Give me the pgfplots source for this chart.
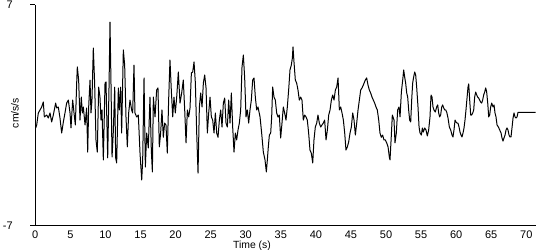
\documentclass[border=0pt]{standalone}
\usepackage{fontspec}
\setmainfont{Liberation Sans}
\usepackage{pgfplots}
\pgfplotsset{compat=1.18}
\begin{document}
\begin{tikzpicture}
\begin{axis}[
  scale only axis,
  width=500.4pt, height=220.7pt,
  xmin=0, xmax=71.34, ymin=-7, ymax=7,
  axis lines=left,
  axis line style={-, line width=1pt, black},
  tick align=outside,
  major tick length=5pt,
  xtick={0,5,...,70},
  xticklabels={0,5,10,15,20,25,30,35,40,45,50,55,60,65,70},
  xtick style={draw=none},
  ytick={-7,7},
  yticklabels={-7,7},
  ytick style={line width=1pt, black},
  tick label style={font=\fontsize{11}{13}\selectfont},
  x tick label style={inner sep=0pt, yshift=0pt},
  y tick label style={xshift=-14pt},
  xlabel={Time (s)},
  ylabel={cm/s/s},
  label style={font=\fontsize{10.4}{12}\selectfont},
  xlabel style={at={(axis description cs:0.433,0)}, anchor=north, inner sep=0pt, yshift=-14.6pt},
  ylabel style={at={(axis description cs:-0.0406,0.51)}, anchor=center, inner sep=0pt},
]
\addplot[black, line width=1pt, line join=round] table {
0.05 -0.80
0.20 -0.61
0.43 0.15
0.67 0.34
0.91 0.53
1.14 0.85
1.29 -0.10
1.62 0.02
1.86 -0.17
2.10 0.15
2.33 -0.42
2.57 0.02
2.90 0.78
3.05 0.47
3.28 0.53
3.52 -0.17
3.76 -1.12
4.00 -0.42
4.23 0.15
4.47 0.78
4.71 0.97
4.95 0.15
5.09 -0.80
5.33 0.97
5.52 0.15
5.71 -0.61
5.90 2.05
5.99 3.07
6.18 2.24
6.37 -0.30
6.56 1.16
6.71 0.15
6.85 0.53
7.09 -0.61
7.32 0.47
7.47 -2.33
7.61 0.53
7.80 2.24
7.94 0.15
8.08 0.97
8.27 4.27
8.46 2.05
8.65 -1.56
8.84 -2.33
9.03 1.79
9.22 1.16
9.37 -0.30
9.51 0.34
9.70 -2.83
9.94 2.05
10.08 2.12
10.32 -2.70
10.51 1.79
10.65 5.92
10.79 2.05
10.94 -2.64
11.12 -1.06
11.32 1.79
11.46 -2.70
11.60 -3.02
11.84 1.74
11.98 0.34
12.17 1.79
12.31 -1.12
12.55 4.15
12.74 3.19
12.93 -0.10
13.12 -2.00
13.31 0.15
13.50 0.97
13.74 0.34
13.88 0.15
14.07 3.19
14.21 0.15
14.45 -0.10
14.69 0.02
14.93 -2.40
15.17 -4.10
15.31 -2.83
15.50 2.37
15.69 -3.28
15.88 -1.12
16.11 -2.07
16.35 1.16
16.54 -2.20
16.69 -3.59
16.83 1.16
17.07 -0.10
17.30 1.61
17.49 1.74
17.68 -2.00
17.87 -1.12
18.06 0.34
18.25 -1.39
18.44 -0.49
18.63 -0.61
18.82 -2.40
19.01 0.97
19.20 3.51
19.39 1.61
19.59 -0.10
19.77 1.16
19.96 0.15
20.16 1.16
20.39 2.75
20.63 0.78
20.87 1.42
21.10 2.24
21.30 0.34
21.49 -1.75
21.68 0.34
21.87 -0.10
22.06 0.47
22.25 2.69
22.44 2.75
22.63 3.39
22.82 2.05
23.01 -1.12
23.20 -3.66
23.39 0.53
23.58 1.42
23.77 0.53
23.96 2.05
24.15 2.56
24.34 1.74
24.53 -1.12
24.72 0.15
24.91 1.16
25.10 -0.10
25.29 -0.30
25.48 -1.12
25.67 0.15
25.86 -1.12
26.05 -1.39
26.24 -0.30
26.43 0.34
26.62 -0.74
26.81 0.78
27.00 1.10
27.19 -0.49
27.38 -0.74
27.57 0.97
27.76 -0.49
27.95 1.42
28.14 -0.74
28.33 -2.33
28.52 -1.12
28.71 -1.56
28.90 -0.93
29.09 -0.49
29.28 0.34
29.47 3.07
29.66 3.83
29.85 2.37
30.04 -0.10
30.23 0.34
30.42 -0.49
30.61 0.34
30.80 0.97
30.99 2.24
31.18 2.37
31.37 1.16
31.56 0.34
31.75 0.53
32.04 -0.10
32.27 -1.12
32.51 -2.33
32.75 -2.83
32.94 -3.59
33.08 -2.83
33.22 -2.00
33.37 -1.25
33.56 -1.12
33.70 -0.10
33.84 1.80
34.03 1.16
34.22 0.97
34.41 0.15
34.60 -0.10
34.79 0.02
34.98 -1.44
35.17 -0.49
35.36 0.53
35.55 0.15
35.74 -0.30
35.93 0.53
36.12 1.61
36.31 2.88
36.50 3.19
36.65 3.64
36.74 4.34
36.88 3.39
37.07 2.24
37.26 2.05
37.45 1.61
37.64 0.97
37.83 1.16
38.02 0.97
38.21 -0.30
38.40 0.02
38.59 -0.10
38.78 -0.30
38.97 -1.12
39.16 -2.20
39.35 -2.40
39.55 -3.02
39.73 -1.56
39.92 -0.74
40.12 -0.49
40.30 0.02
40.49 -0.49
40.69 -0.74
40.87 -0.61
41.06 -0.49
41.25 -0.30
41.45 -1.56
41.64 -0.93
41.83 0.02
42.02 0.34
42.21 0.97
42.40 1.29
42.59 0.97
42.78 1.61
42.97 1.80
43.16 2.37
43.35 0.34
43.54 0.53
43.73 0.15
43.92 -0.30
44.11 -1.12
44.29 -2.20
44.49 -2.00
44.68 -1.68
44.87 -1.12
45.06 -0.74
45.25 0.15
45.44 -0.30
45.63 -1.25
45.82 -0.49
46.01 0.34
46.20 0.97
46.39 1.61
46.58 1.74
46.77 1.93
47.05 2.24
47.24 2.37
47.43 1.93
47.62 1.61
47.81 1.42
48.00 1.16
48.19 0.97
48.38 0.78
48.57 0.53
48.76 0.34
48.96 -0.30
49.14 -1.12
49.33 -1.39
49.52 -1.25
49.71 -1.56
49.90 -1.56
50.10 -1.75
50.29 -2.00
50.47 -2.64
50.57 -2.83
50.76 -1.25
50.90 0.02
51.14 -0.30
51.28 -1.75
51.47 -1.12
51.66 0.34
51.85 0.53
52.00 -0.10
52.19 1.48
52.38 2.24
52.52 2.88
52.66 2.43
52.80 2.05
52.95 1.42
53.09 1.16
53.23 0.34
53.37 -0.30
53.52 -0.42
53.66 0.97
53.80 2.05
53.94 2.43
54.09 2.75
54.23 2.56
54.37 1.80
54.56 0.53
54.71 -0.74
54.85 -1.12
55.04 -1.25
55.18 -0.80
55.32 -1.06
55.51 -0.80
55.70 -0.93
55.89 -1.31
56.08 -0.93
56.27 -0.10
56.42 1.29
56.56 1.16
56.70 0.53
56.84 0.34
57.03 0.21
57.22 0.53
57.37 0.66
57.51 0.15
57.65 -0.10
57.79 0.02
57.94 0.53
58.08 0.66
58.22 0.47
58.37 0.34
58.51 0.34
58.65 0.21
58.84 -0.17
59.03 -0.74
59.22 -0.93
59.41 -1.25
59.55 -1.37
59.69 -0.93
59.84 -0.30
59.98 -0.42
60.12 -0.49
60.26 -0.49
60.41 -0.74
60.55 -1.06
60.69 -1.25
60.83 -1.37
60.98 -1.12
61.12 -0.80
61.26 -0.30
61.40 0.34
61.55 1.10
61.69 1.80
61.79 1.99
61.93 0.97
62.07 0.02
62.21 0.02
62.36 0.15
62.50 0.34
62.64 1.16
62.78 1.48
62.93 1.29
63.07 1.16
63.21 1.10
63.35 0.97
63.49 0.85
63.64 0.78
63.78 0.97
63.92 1.29
64.07 1.48
64.21 1.74
64.35 1.48
64.50 0.78
64.64 -0.10
64.78 0.02
64.92 0.53
65.07 0.78
65.26 0.53
65.40 0.66
65.54 0.15
65.68 -0.10
65.83 -0.61
66.02 -0.74
66.21 -0.93
66.40 -1.12
66.54 -1.44
66.68 -1.63
66.82 -1.44
66.97 -1.25
67.11 -0.93
67.25 -0.80
67.39 -0.93
67.54 -1.25
67.68 -1.37
67.82 -1.37
67.96 -0.80
68.11 -0.17
68.25 0.15
68.39 -0.10
68.53 -0.17
68.68 -0.10
68.82 0.19
71.34 0.19
};
\coordinate (sw) at (rel axis cs:0,0);
\coordinate (ne) at (rel axis cs:1,1);
\end{axis}
\pgfresetboundingbox
\path ([shift={(-35.3pt,-24.3pt)}]sw) rectangle ([shift={(14.3pt,5pt)}]ne);
\end{tikzpicture}
\end{document}
